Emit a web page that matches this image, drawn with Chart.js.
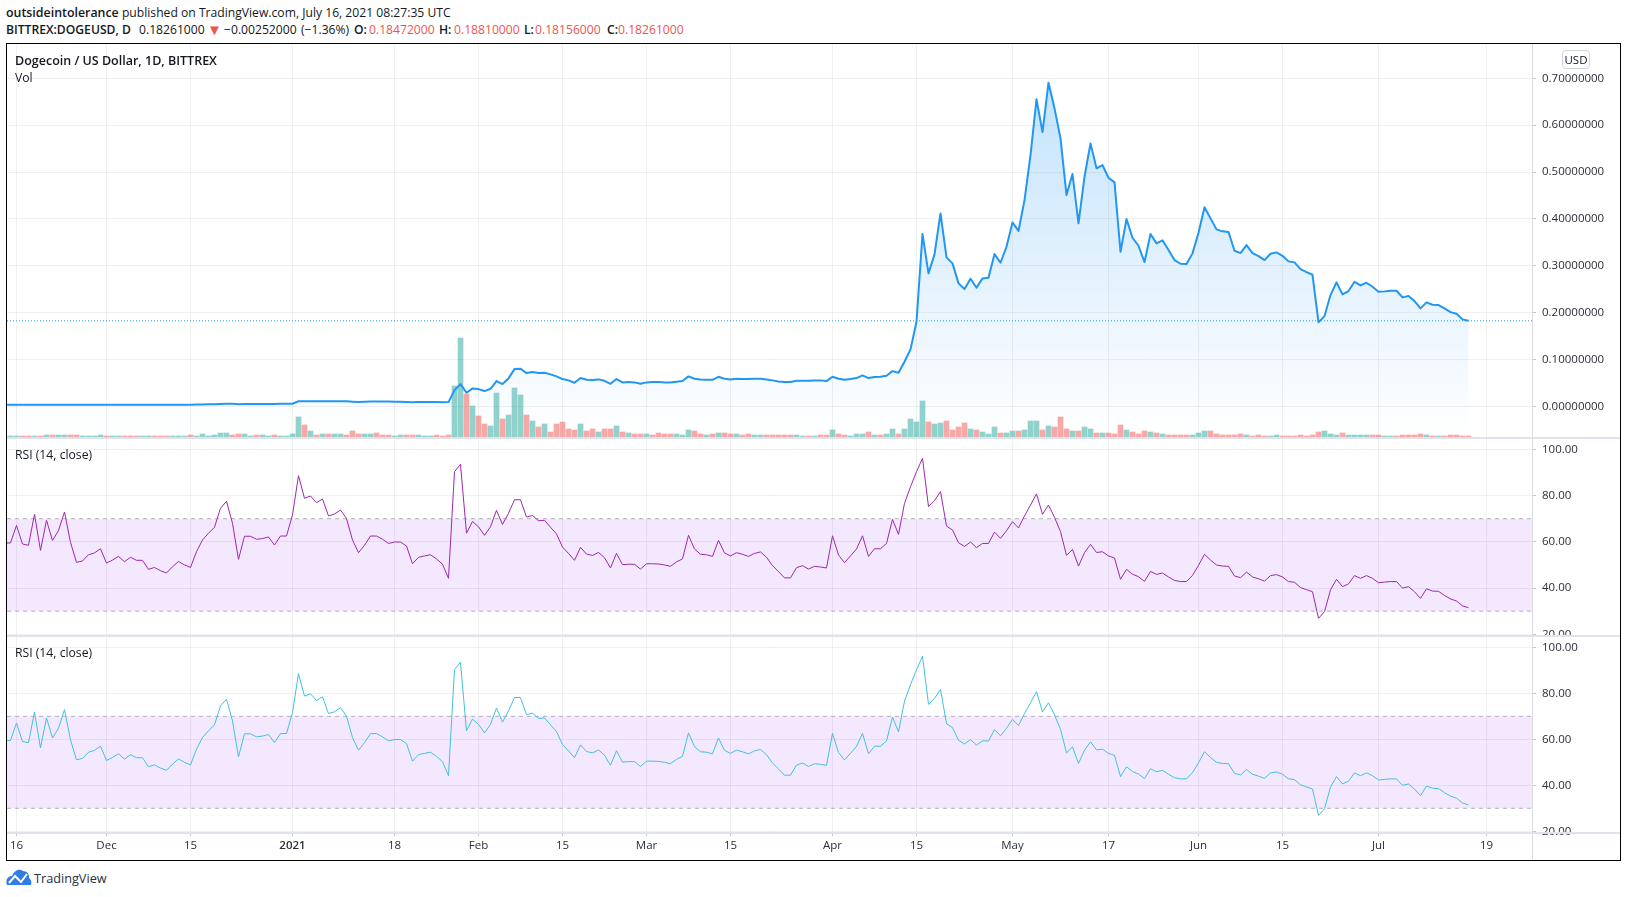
<!DOCTYPE html>
<html>
<head>
<meta charset="utf-8">
<title>DOGEUSD</title>
<script src="https://cdn.jsdelivr.net/npm/chart.js@4"></script>
<style>
  html, body { margin: 0; padding: 0; background: #fff; }
  body { width: 1627px; height: 897px; position: relative; overflow: hidden; font-family: "Open Sans", sans-serif; color: #131722; }
  .abs { position: absolute; white-space: nowrap; }
  b { font-weight: 600; }
  .red { color: #ef5350; }
  .hdr { font-size: 12.15px; line-height: 16px; }
  .hdr b { font-size: 12.4px; }
  .lbl { font-size: 12.2px; line-height: 16px; left: 15px; }
  .lbl b { font-size: 12.5px; }
  canvas { position: absolute; left: 7px; }
  #frame { left: 6px; top: 43px; width: 1613px; height: 816px; border: 1px solid #000; }
  .sep { position: absolute; left: 7px; width: 1613px; height: 2px; background: #e0e3eb; }
  #axisLine { position: absolute; left: 1532px; top: 44px; width: 1px; height: 815px; background: #dadce2; }
  #usd { left: 1562px; top: 50px; width: 26px; height: 17px; border: 1px solid #d1d4dc; border-radius: 4px; font-size: 11.5px; line-height: 17px; text-align: center; }
</style>
</head>
<body>
<div class="abs hdr" style="left:6px;top:5px"><b>outsideintolerance</b> published on TradingView.com, July 16, 2021 08:27:35 UTC</div>
<b class="abs hdr" style="left:6px;top:22px">BITTREX:DOGEUSD, D</b>
<span class="abs hdr" style="left:139px;top:22px">0.18261000</span>
<span class="abs red" style="left:207px;top:21px;font-size:15px;line-height:16px">▼</span>
<span class="abs hdr" style="left:224px;top:22px">−0.00252000</span>
<span class="abs hdr" style="left:301px;top:22px">(−1.36%)</span>
<b class="abs hdr" style="left:354px;top:22px">O:</b>
<span class="abs hdr red" style="left:369px;top:22px">0.18472000</span>
<b class="abs hdr" style="left:439px;top:22px">H:</b>
<span class="abs hdr red" style="left:454px;top:22px">0.18810000</span>
<b class="abs hdr" style="left:524px;top:22px">L:</b>
<span class="abs hdr red" style="left:535px;top:22px">0.18156000</span>
<b class="abs hdr" style="left:607px;top:22px">C:</b>
<span class="abs hdr red" style="left:618px;top:22px">0.18261000</span>

<canvas id="priceChart" width="1613" height="393" style="top:44px"></canvas>
<canvas id="rsiChart" width="1613" height="197" style="top:438px"></canvas>
<canvas id="rsiChart2" width="1613" height="223" style="top:637px"></canvas>

<div class="sep" style="top:437px"></div>
<div class="sep" style="top:635px"></div>
<div class="sep" style="top:832px"></div>
<div id="axisLine"></div>
<div id="frame" class="abs"></div>

<div class="abs lbl" style="top:53px"><b>Dogecoin / US Dollar, 1D, BITTREX</b></div>
<div class="abs lbl" style="top:70px">Vol</div>
<div class="abs lbl" style="top:447px">RSI (14, close)</div>
<div class="abs lbl" style="top:645px">RSI (14, close)</div>
<div id="usd" class="abs">USD</div>

<svg class="abs" style="left:6px;top:868px" width="26" height="18" viewBox="0 0 26 18">
  <path d="M1 17 C-1 12 2 8 6 8 C8 3 13 0 17 3 C21 3 24 7 23 10 C26 12 26 17 24 17 Z" fill="#2e7ce6"/>
  <path d="M3 15 L9 8 L15 14 L21 6" fill="none" stroke="#fff" stroke-width="2"/>
</svg>
<div class="abs" style="left:34px;top:869px;font-size:12.7px;line-height:18px;color:#2a2e39">TradingView</div>

<script>
// Trục thời gian: số ngày tính từ 16 Nov 2020
const firstDay = -2;
const tickDays = [0, 15, 29, 46, 63, 77, 91, 105, 119, 136, 150, 166, 182, 197, 211, 227, 245];
const tickLabels = ['16', 'Dec', '15', '2021', '18', 'Feb', '15', 'Mar', '15', 'Apr', '15', 'May', '17', 'Jun', '15', 'Jul', '19'];

const priceTicks = [0, 0.1, 0.2, 0.3, 0.4, 0.5, 0.6, 0.7];
const rsiTicks = [20, 40, 60, 80, 100];
const rsiLevels = [70, 30];
const lastClose = 0.18261;

// Giá đóng cửa theo ngày
const closes = [
  .0034, .0034, .0034, .0033, .0034, .0034, .0034, .0035, .0034, .0034,
  .0034, .0033, .0033, .0034, .0034, .0033, .0034, .0034, .0034, .0034,
  .0035, .0035, .0036, .0037, .0037, .0036, .0036, .0035, .0035, .0036,
  .0036, .0036, .0038, .0041, .0045, .0048, .0050, .0054, .0054, .0047,
  .0049, .0050, .0051, .0052, .0052, .0053, .0054, .0054, .0056, .0110,
  .0112, .0112, .0110, .0112, .0108, .0110, .0112, .0110, .0100, .0092,
  .0098, .0102, .0104, .0104, .0102, .0100, .0098, .0096, .0090, .0092,
  .0094, .0095, .0092, .0090, .0092, .0348, .0476, .0290, .0384, .0369,
  .0327, .0376, .0540, .0476, .0597, .0796, .0802, .0711, .0732, .0711,
  .0718, .0683, .0640, .0583, .0555, .0504, .0604, .0568, .0561, .0576,
  .0546, .0482, .0583, .0512, .0519, .0512, .0482, .0512, .0519, .0519,
  .0512, .0512, .0525, .0540, .0640, .0589, .0576, .0568, .0568, .0632,
  .0589, .0576, .0589, .0583, .0583, .0589, .0589, .0576, .0555, .0533,
  .0519, .0519, .0546, .0546, .0546, .0555, .0555, .0540, .0632, .0589,
  .0568, .0583, .0604, .0661, .0604, .0625, .0632, .0653, .0753, .0717,
  .0952, .1216, .1806, .3677, .2838, .3243, .4118, .3179, .3051, .2625,
  .2503, .2723, .2531, .2731, .2745, .3250, .3065, .3406, .3926, .3741,
  .4402, .5363, .6551, .5854, .6906, .6359, .5719, .4509, .4957, .3905,
  .4900, .5612, .5079, .5149, .4878, .4780, .3299, .3997, .3598, .3427,
  .3079, .3677, .3478, .3542, .3335, .3122, .3043, .3037, .3265, .3705,
  .4247, .4012, .3777, .3735, .3720, .3321, .3271, .3442, .3271, .3207,
  .3122, .3257, .3286, .3214, .3094, .3073, .2930, .2866, .2808, .1793,
  .1927, .2375, .2646, .2390, .2461, .2659, .2582, .2638, .2552, .2446,
  .2454, .2467, .2467, .2326, .2354, .2247, .2091, .2219, .2168, .2162,
  .2091, .2012, .1976, .1857, .1827
];

// Khối lượng (đơn vị tương đối)
const volumes = [
  1, 1, 1, 1, 1, 1, 1, 2, 2, 2,
  2, 2, 2, 1, 1, 1, 2, 1, 1, 1,
  1, 1, 1, 1, 1, 1, 1, 1, 1, 1,
  1, 2, 1, 3, 1, 2, 4, 4, 2, 3,
  3, 1, 2, 2, 1, 2, 1, 1, 3, 20,
  12, 6, 2, 3, 3, 3, 3, 2, 6, 3,
  3, 3, 4, 2, 2, 1, 2, 2, 2, 2,
  1, 1, 2, 1, 2, 51, 99, 43, 31, 21,
  13, 11, 44, 18, 22, 49, 42, 22, 16, 10,
  13, 5, 13, 15, 8, 7, 13, 6, 8, 5,
  8, 8, 11, 5, 4, 3, 3, 3, 2, 4,
  3, 3, 3, 2, 7, 6, 3, 2, 3, 4,
  4, 3, 3, 2, 3, 2, 2, 2, 2, 2,
  2, 2, 2, 1, 1, 1, 2, 2, 7, 3,
  2, 1, 3, 3, 5, 2, 2, 3, 8, 3,
  8, 18, 15, 36, 15, 13, 14, 16, 7, 10,
  14, 8, 7, 5, 3, 10, 4, 4, 6, 6,
  7, 16, 16, 7, 11, 10, 20, 8, 6, 6,
  10, 8, 4, 4, 4, 3, 12, 7, 5, 3,
  6, 5, 4, 3, 2, 2, 2, 2, 2, 4,
  6, 6, 3, 2, 2, 2, 3, 2, 1, 2,
  1, 1, 2, 1, 1, 1, 2, 1, 2, 5,
  6, 3, 2, 4, 2, 2, 2, 2, 2, 2,
  1, 1, 1, 2, 2, 2, 3, 2, 1, 1,
  1, 2, 2, 1, 1
];

// 1 = nến tăng (xanh), 0 = nến giảm (đỏ)
const volumeUp = [
  1, 1, 1, 0, 0, 1, 0, 1, 0, 1,
  1, 0, 0, 1, 1, 1, 1, 0, 1, 1,
  0, 0, 0, 1, 1, 0, 0, 0, 1, 1,
  1, 0, 1, 1, 1, 1, 1, 1, 0, 0,
  1, 1, 0, 1, 1, 0, 1, 1, 1, 1,
  0, 1, 0, 1, 0, 1, 1, 0, 0, 0,
  1, 1, 0, 0, 0, 1, 1, 0, 0, 1,
  1, 1, 0, 0, 0, 1, 1, 0, 1, 0,
  0, 1, 1, 0, 1, 1, 1, 0, 1, 0,
  1, 0, 0, 0, 0, 0, 1, 0, 0, 1,
  0, 0, 1, 0, 1, 0, 0, 1, 0, 0,
  0, 0, 1, 1, 1, 0, 0, 1, 0, 1,
  0, 0, 1, 0, 0, 1, 1, 0, 0, 0,
  0, 0, 1, 1, 0, 1, 0, 0, 1, 0,
  0, 1, 1, 1, 0, 1, 0, 1, 1, 0,
  1, 1, 1, 1, 0, 1, 1, 0, 0, 0,
  0, 1, 0, 1, 1, 1, 0, 1, 1, 0,
  1, 1, 1, 0, 1, 0, 0, 0, 1, 0,
  1, 1, 0, 1, 0, 0, 0, 1, 0, 0,
  0, 1, 0, 1, 0, 0, 0, 0, 1, 1,
  1, 0, 0, 0, 0, 0, 0, 1, 0, 0,
  0, 1, 1, 0, 0, 0, 0, 0, 0, 0,
  1, 1, 1, 0, 1, 1, 1, 1, 0, 0,
  1, 1, 0, 0, 0, 0, 0, 1, 0, 1,
  0, 0, 0, 0, 0
];

// RSI (14, close)
const rsiValues = [
  59.5, 59.5, 67.1, 59.05, 58.5, 71.9, 56.3, 69.3, 60.6, 64.8,
  72.9, 59.8, 51.1, 51.7, 54.4, 55.2, 57.0, 50.8, 52.1, 53.7,
  51.4, 53.3, 52.0, 52.0, 48.1, 48.9, 47.5, 46.5, 49.2, 51.5,
  50.0, 48.9, 55.7, 60.8, 63.7, 66.3, 74.5, 77.5, 68.0, 52.4,
  62.4, 62.4, 61.1, 61.4, 62.1, 58.6, 62.5, 62.5, 71.6, 88.6,
  78.8, 79.8, 76.9, 78.5, 71.2, 72.0, 73.75, 70.1, 60.8, 55.3,
  58.5, 62.5, 62.5, 61.1, 59.3, 59.9, 59.9, 58.2, 50.5, 53.3,
  53.9, 54.4, 52.6, 50.3, 44.2, 90.3, 93.5, 63.7, 68.8, 66.5,
  62.8, 66.5, 73.6, 67.5, 72.3, 78.2, 78.2, 70.7, 71.4, 69.1,
  69.3, 66.3, 63.4, 57.75, 55.0, 52.0, 57.6, 54.7, 54.1, 55.4,
  53.1, 48.7, 55.0, 50.1, 50.3, 50.3, 48.2, 50.5, 50.5, 50.4,
  50.0, 49.4, 51.3, 52.6, 62.8, 56.9, 54.6, 54.4, 53.7, 60.6,
  55.2, 53.9, 55.3, 54.6, 53.7, 55.0, 55.6, 53.3, 49.7, 47.1,
  44.4, 44.4, 48.8, 49.7, 48.2, 49.4, 49.1, 48.7, 62.6, 54.3,
  51.0, 53.9, 56.9, 62.6, 53.7, 57.0, 57.0, 59.3, 69.7, 63.2,
  76.6, 83.8, 90.3, 96.1, 75.2, 77.8, 81.7, 66.8, 65.1, 59.6,
  58.0, 59.9, 57.5, 59.3, 59.3, 64.2, 61.5, 64.8, 68.7, 66.0,
  71.2, 75.9, 80.7, 71.9, 75.9, 70.6, 64.4, 54.1, 56.7, 49.5,
  55.3, 58.9, 55.4, 55.7, 53.9, 53.0, 43.8, 48.1, 46.0, 44.9,
  42.9, 47.2, 45.9, 46.5, 44.8, 43.3, 42.8, 42.8, 45.5, 49.8,
  54.6, 52.1, 50.0, 49.5, 49.4, 45.2, 44.5, 46.9, 44.8, 44.0,
  43.0, 45.4, 45.8, 44.8, 42.8, 42.5, 40.2, 39.3, 38.4, 26.9,
  29.8, 39.2, 43.8, 40.6, 41.8, 45.4, 44.2, 45.4, 44.2, 42.3,
  42.6, 42.8, 42.8, 40.0, 40.6, 38.4, 35.5, 39.7, 38.7, 38.6,
  36.8, 35.3, 34.4, 32.3, 31.5
];

const xMin = -1.583;
const xMax = 252.583;
const fontName = '"Open Sans", sans-serif';
const gridColor = 'rgba(42,46,57,0.07)';
const tickMarkColor = '#c4c7cf';

function toPoints(values) {
    return values.map((v, i) => ({ x: firstDay + i, y: v }));
}

function linePoints(value) {
    return [{ x: xMin, y: value }, { x: xMax, y: value }];
}

// Trục x dùng chung; chỉ panel dưới cùng hiện nhãn
function timeAxis(showLabels) {
    return {
        type: 'linear',
        offset: false,
        min: xMin,
        max: xMax,
        afterBuildTicks: scale => { scale.ticks = tickDays.map(d => ({ value: d })); },
        afterFit: scale => {
            scale.height = showLabels ? 28 : 0;
            scale.paddingLeft = 0;
            scale.paddingRight = 0;
        },
        border: { display: false },
        grid: { offset: false, color: gridColor, drawTicks: showLabels, tickLength: 4, tickColor: tickMarkColor },
        ticks: {
            display: showLabels,
            autoSkip: false,
            maxRotation: 0,
            padding: 3,
            color: '#2a2e39',
            font: ctx => ({ family: fontName, size: 11.5, weight: tickLabels[ctx.index] === '2021' ? '600' : '400' }),
            callback: value => tickLabels[tickDays.indexOf(value)]
        }
    };
}

function valueAxis(min, max, ticks, digits) {
    return {
        position: 'right',
        min: min,
        max: max,
        afterBuildTicks: scale => { scale.ticks = ticks.map(v => ({ value: v })); },
        afterFit: scale => {
            scale.width = 88;
            scale.paddingTop = 0;
            scale.paddingBottom = 0;
        },
        border: { display: false },
        grid: { color: gridColor, tickLength: 4, tickColor: tickMarkColor },
        ticks: {
            padding: 6,
            color: '#2a2e39',
            font: { family: fontName, size: 11.5 },
            callback: value => value.toFixed(digits)
        }
    };
}

const baseOptions = {
    responsive: false,
    animation: false,
    devicePixelRatio: 1,
    layout: { padding: 0 },
    plugins: { legend: { display: false }, tooltip: { enabled: false } }
};

// Panel giá + khối lượng
new Chart(document.getElementById('priceChart').getContext('2d'), {
    type: 'bar',
    data: {
        datasets: [
            {
                type: 'line',
                data: linePoints(lastClose),
                yAxisID: 'y',
                borderColor: '#2196f3',
                borderWidth: 1,
                borderDash: [1, 2],
                pointRadius: 0,
                order: 0
            },
            {
                type: 'line',
                data: toPoints(closes),
                yAxisID: 'y',
                borderColor: '#2196f3',
                borderWidth: 2,
                borderJoinStyle: 'round',
                pointRadius: 0,
                tension: 0,
                fill: 'start',
                backgroundColor: ctx => {
                    const area = ctx.chart.chartArea;
                    if (!area) return 'transparent';
                    const g = ctx.chart.ctx.createLinearGradient(0, area.top + 25, 0, area.bottom);
                    g.addColorStop(0, 'rgba(33,150,243,0.28)');
                    g.addColorStop(1, 'rgba(33,150,243,0)');
                    return g;
                },
                order: 1
            },
            {
                type: 'bar',
                data: toPoints(volumes),
                yAxisID: 'vol',
                barThickness: 5,
                grouped: false,
                backgroundColor: volumeUp.map(up => up ? 'rgba(38,166,154,0.5)' : 'rgba(239,83,80,0.5)'),
                order: 2
            }
        ]
    },
    options: {
        ...baseOptions,
        scales: {
            x: timeAxis(false),
            y: valueAxis(-0.0653, 0.7732, priceTicks, 8),
            vol: { display: false, min: 0, max: 393 }
        }
    }
});

// Hai panel RSI chỉ khác màu đường và khoảng trục
function drawRsi(canvasId, color, min, max, showLabels) {
    const level = {
        type: 'line',
        borderColor: 'rgba(120,123,134,0.55)',
        borderWidth: 1,
        borderDash: [4, 4],
        pointRadius: 0
    };
    new Chart(document.getElementById(canvasId).getContext('2d'), {
        type: 'line',
        data: {
            datasets: [
                { data: toPoints(rsiValues), borderColor: color, borderWidth: 1, borderJoinStyle: 'round', pointRadius: 0, tension: 0, order: 0 },
                { ...level, data: linePoints(rsiLevels[0]), fill: { target: '+1' }, backgroundColor: 'rgba(150,40,255,0.105)', order: 1 },
                { ...level, data: linePoints(rsiLevels[1]), order: 2 }
            ]
        },
        options: {
            ...baseOptions,
            scales: {
                x: timeAxis(showLabels),
                y: valueAxis(min, max, rsiTicks, 2)
            }
        }
    });
}

drawRsi('rsiChart', '#9c27b0', 19.7, 104.89, false);
drawRsi('rsiChart2', '#3fc1de', 19.7, 104.5, true);
</script>
</body>
</html>
